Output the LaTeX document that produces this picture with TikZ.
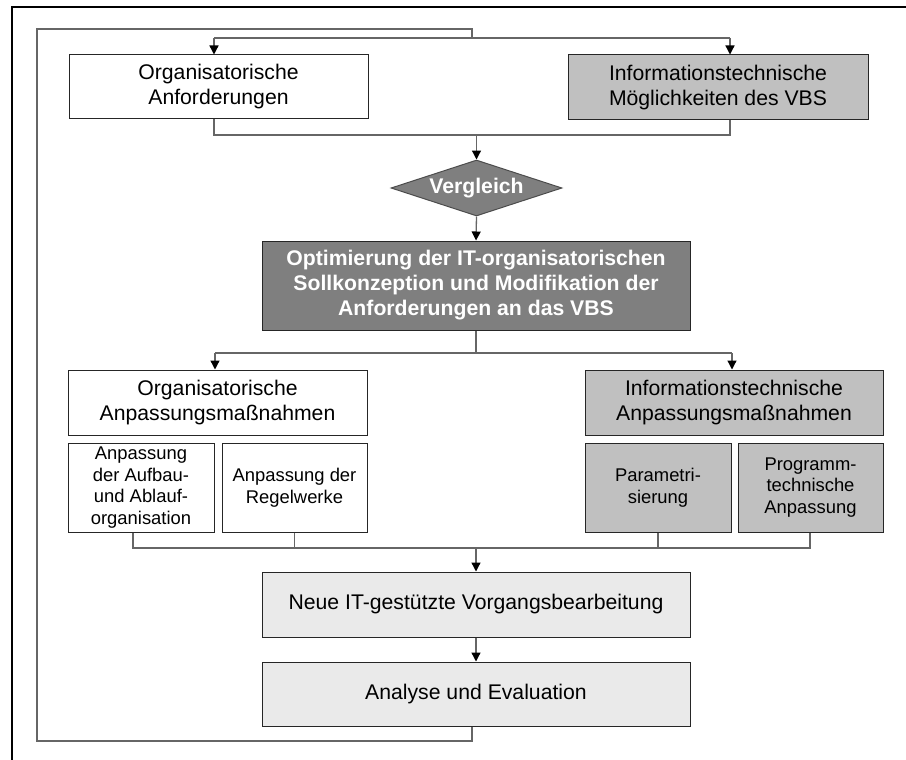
\documentclass[tikz,border=0pt]{standalone}
\usepackage{fontspec}
\setmainfont{Liberation Sans}
\usetikzlibrary{shapes.geometric, arrows.meta}

\definecolor{techgray}{HTML}{C0C0C0}
\definecolor{optgray}{HTML}{7F7F7F}
\definecolor{newgray}{HTML}{EAEAEA}

\begin{document}
\begin{tikzpicture}[
    x=1pt, y=-1pt,
    box/.style = {
        rectangle,
        draw=black!85,
        line width=1pt,
        inner sep=0pt,
        align=center,
        font=\fontsize{21.2}{25}\selectfont
    },
    small/.style = {font=\fontsize{18.4}{21.7}\selectfont},
    orgbox/.style  = {box, fill=white},
    techbox/.style = {box, fill=techgray},
    optbox/.style  = {box, fill=optgray, text=white,
                      font=\fontsize{21.2}{25}\selectfont\bfseries},
    newbox/.style  = {box, fill=newgray},
    line/.style  = {line width=1.3pt, draw=black!60},
    arrow/.style = {line, -{Triangle[length=9pt, width=9pt, color=black]}}
]
\useasboundingbox (0,0) rectangle (906,760);

%% frame
\draw[line width=2pt] (906,7) -- (12,7) -- (12,760);

%% requirements
\node[orgbox, minimum width=299pt, minimum height=64pt] (anfOrg) at (218.5,87)
    {Organisatorische\\Anforderungen};
\node[techbox, minimum width=300pt, minimum height=65pt] (anfIT) at (718,87.5)
    {Informationstechnische\\Möglichkeiten des VBS};

%% comparison and optimisation
\node[diamond, aspect=3, draw=black!70, line width=1pt, fill=optgray,
      minimum width=171pt, minimum height=56pt, inner sep=0pt, text=white,
      font=\fontsize{21.2}{25}\selectfont\bfseries] (vgl) at (476.5,188) {Vergleich};
\node[optbox, minimum width=428pt, minimum height=89pt] (opt) at (476,285.5)
    {Optimierung der IT-organisatorischen\\
     Sollkonzeption und Modifikation der\\
     Anforderungen an das VBS};

%% adaptation measures
\node[orgbox, minimum width=299pt, minimum height=65pt] (anpOrg) at (217.5,402.5)
    {Organisatorische\\Anpassungsmaßnahmen};
\node[techbox, minimum width=298pt, minimum height=65pt] (anpIT) at (734,402.5)
    {Informationstechnische\\Anpassungsmaßnahmen};

\node[orgbox, small, minimum width=146pt, minimum height=89pt] (aufbau) at (141,487.5)
    {Anpassung\\der Aufbau-\\und Ablauf-\\organisation};
\node[orgbox, small, minimum width=145pt, minimum height=89pt] (regel) at (294.5,487.5)
    {Anpassung der\\Regelwerke};
\node[techbox, small, minimum width=146pt, minimum height=89pt] (param) at (658,487.5)
    {Parametri-\\sierung};
\node[techbox, small, minimum width=145pt, minimum height=89pt] (progr) at (810.5,487.5)
    {Programm-\\technische\\Anpassung};

%% result and evaluation
\node[newbox, minimum width=428pt, minimum height=65pt] (neue) at (476,604.5)
    {Neue IT-gestützte Vorgangsbearbeitung};
\node[newbox, minimum width=428pt, minimum height=64pt] (ana) at (476,694)
    {Analyse und Evaluation};

%% junction points
\coordinate (dl) at (214,38);
\coordinate (dr) at (730,38);
\coordinate (fb) at (472,38);
\coordinate (fbtop) at (472,29);
\coordinate (fbbot) at (37,741);
\coordinate (ml) at (214,135);
\coordinate (mr) at (730,135);
\coordinate (sl) at (215,353);
\coordinate (sr) at (732,353);
\coordinate (cl) at (133,548);
\coordinate (cr) at (810,548);

%% feedback loop
\draw[line] ([xshift=-4pt]ana.south) |- (fbbot) |- (fbtop) -- (fb);
\draw[line] (dl) -- (dr);
\draw[arrow] (dl) -- (dl |- anfOrg.north);
\draw[arrow] (dr) -- (dr |- anfIT.north);

%% merge into comparison
\draw[line] (ml |- anfOrg.south) -- (ml) -- (mr) -- (mr |- anfIT.south);
\draw[arrow] (ml -| vgl.north) -- (vgl.north);
\draw[arrow] (vgl.south) -- (opt.north);

%% split into measures
\draw[line] (opt.south) -- (sl -| opt.south);
\draw[line] (sl) -- (sr);
\draw[arrow] (sl) -- (sl |- anpOrg.north);
\draw[arrow] (sr) -- (sr |- anpIT.north);

%% collect measures
\draw[line] (cl |- aufbau.south) -- (cl) -- (cr) -- (cr |- progr.south);
\draw[line] (regel.south) -- (regel.south |- cl);
\draw[line] (param.south) -- (param.south |- cl);
\draw[arrow] (cl -| neue.north) -- (neue.north);
\draw[arrow] (neue.south) -- (ana.north);

\end{tikzpicture}
\end{document}
